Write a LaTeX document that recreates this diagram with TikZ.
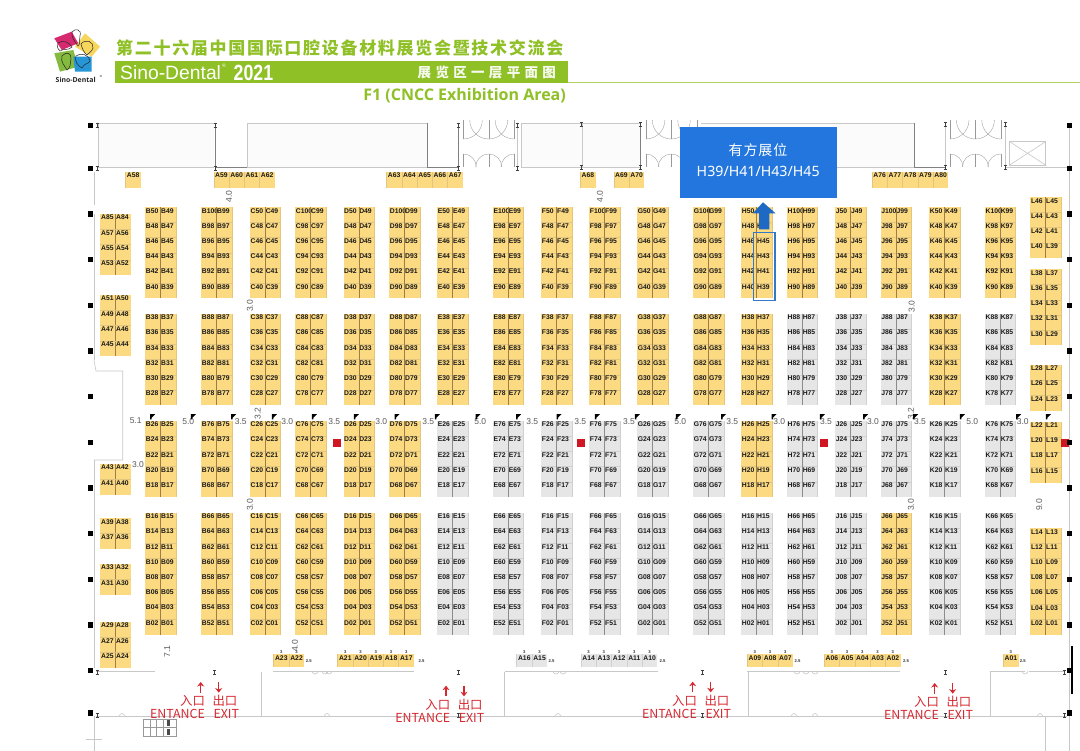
\documentclass[tikz,border=0pt]{standalone}
\usepackage{fontspec}
\usepackage{xcolor}
\setmainfont{Liberation Sans}
\newfontfamily\cjk{Noto Sans CJK SC}
\newfontfamily\cjktitle[LetterSpace=10]{Noto Sans CJK SC}
\newfontfamily\cjkbar[LetterSpace=32]{Noto Sans CJK SC}
\newfontfamily\cjkbox[LetterSpace=6]{Noto Sans CJK SC}
\newfontfamily\opensans{Open Sans}
\newfontfamily\notosans{Noto Sans}
\definecolor{boothY}{RGB}{252,218,130}
\definecolor{boothG}{RGB}{230,230,230}
\definecolor{midY}{RGB}{160,125,70}
\definecolor{midG}{RGB}{140,140,140}
\definecolor{rowY}{RGB}{226,198,128}
\definecolor{rowG}{RGB}{208,208,208}
\definecolor{sinogreen}{RGB}{143,192,38}
\definecolor{hostblue}{RGB}{35,118,222}
\definecolor{arrowblue}{RGB}{30,105,195}
\definecolor{exitred}{RGB}{214,40,48}
\definecolor{pillarred}{RGB}{208,22,34}
\definecolor{wallgray}{RGB}{200,200,200}
\definecolor{dimgray}{RGB}{90,90,90}
\definecolor{logopink}{RGB}{214,42,112}
\definecolor{logoyellow}{RGB}{246,214,92}
\definecolor{logogreen}{RGB}{132,186,62}
\definecolor{logoblue}{RGB}{38,150,214}

\tikzset{
	boothlabel/.style={font=\fontsize{6.8}{6.8}\selectfont\bfseries, text=black!90, inner sep=0pt, anchor=west},
	boothedge/.style={line width=0.5pt},
	wall/.style={draw=wallgray, line width=0.6pt},
	darkwall/.style={draw=black!50, line width=0.7pt},
	doorline/.style={draw=black!40, line width=0.35pt},
	dimtext/.style={font=\fontsize{8.5}{8.5}\selectfont, text=dimgray, inner sep=0pt},
	tinytext/.style={font=\fontsize{4.2}{4.2}\selectfont\bfseries, text=black!80, inner sep=0pt},
	redtext/.style={font=\cjk\fontsize{12.4}{12.4}\selectfont, text=exitred, inner sep=0pt},
	redarrow/.style={-{Stealth[length=4.5pt,width=7pt]}, draw=exitred, line width=1.3pt},
	tooth/.style={draw=black!85, line width=0.5pt},
}
\usetikzlibrary{arrows.meta}

% two columns of numbered stands: letter, left, top, first number, rows, colour
\newcommand{\boothcol}[6]{
	\fill[booth#6] (#2,#3) rectangle ++(30.6,{15.2*#5});
	\foreach \rr in {1,...,#5}{
		\pgfmathsetmacro\yrow{#3+15.2*(\rr-1)}
		\pgfmathtruncatemacro\numL{#4-2*(\rr-1)}
		\pgfmathtruncatemacro\numR{\numL-1}
		\edef\nameL{#1\ifnum\numL<10 0\fi\numL}
		\edef\nameR{#1\ifnum\numR<10 0\fi\numR}
		\ifnum\rr>1 \draw[row#6, boothedge] (#2,\yrow) -- ++(30.6,0); \fi
		\node[boothlabel] (\nameL) at (#2+0.4,\yrow+3.4) {\nameL};
		\node[boothlabel] (\nameR) at (#2+15.6,\yrow+3.4) {\nameR};
	}
	\draw[mid#6, boothedge] (#2+15.3,#3) -- ++(0,{15.2*#5});
	\draw[row#6, line width=0.6pt] (#2+30.6,#3) -- ++(0,{15.2*#5});
}
% a block of pairs with free names: left, top, height, list of pairs
\newcommand{\pairblock}[4]{
	\fill[boothY] (#1,#2) rectangle ++(30.6,#3);
	\draw[midY, boothedge] (#1+15.3,#2) -- ++(0,#3);
	\foreach \lft/\rgt [count=\i from 0] in {#4}{
		\pgfmathsetmacro\yrow{#2+15.3*\i}
		\ifnum\i>0 \draw[rowY, boothedge] (#1,\yrow) -- ++(30.6,0); \fi
		\node[boothlabel] (\lft) at (#1+0.9,\yrow+3.4) {\lft};
		\node[boothlabel] (\rgt) at (#1+16,\yrow+3.4) {\rgt};
	}
}
% a row of single stands along the top or bottom wall
\newcommand{\toprow}[3]{
	\foreach \lab [count=\i from 0] in {#3}{
		\fill[boothY] (#1+15.25*\i,#2) rectangle ++(15.25,16);
		\draw[rowY, boothedge] (#1+15.25*\i,#2) -- ++(0,16);
		\node[boothlabel, anchor=center] (\lab) at (#1+15.25*\i+7.6,#2+3.6) {\lab};
	}
}
\newcommand{\bottomrow}[3]{
	\foreach \lab [count=\i from 0] in {#3}{
		\fill[booth#2] (#1+15.25*\i,654.3) rectangle ++(15.25,12.4);
		\draw[row#2, boothedge] (#1+15.25*\i,654.3) -- ++(0,12.4);
		\node[boothlabel, anchor=center] (\lab) at (#1+15.25*\i+7.6,658.4) {\lab};
		\node[tinytext] (top\lab) at (#1+15.25*\i+7.6,652) {3};
	}
}
% entrance and exit pair
\newcommand{\gate}[3]{
	\draw[redarrow] (#2,#3+10.6) -- (#2,#3);
	\draw[redarrow] (#2+18,#3) -- (#2+18,#3+10.6);
	\node[redtext, anchor=east] (in#1) at (#2+4.4,#3+19) {入口};
	\node[redtext, anchor=west] (out#1) at (#2+11.6,#3+19) {出口};
	\node[redtext, anchor=east] (ent#1) at (#2+4.4,#3+32) {ENTANCE};
	\node[redtext, anchor=west] (ex#1) at (#2+12.6,#3+32) {EXIT};
}
% double doors in the top wall
\newcommand{\doorbay}[1]{
	\draw[doorline] (#1,120) -- ++(0,19) (#1+25.4,120) -- ++(0,19) (#1+50.8,120) -- ++(0,19);
	\draw[doorline] (#1,154) -- ++(0,13) (#1+25.4,154) -- ++(0,13) (#1+50.8,154) -- ++(0,13);
	\foreach \k in {0,25.4}{
		\draw[doorline] (#1+\k,139) .. controls (#1+\k+10.5,139) and (#1+\k+19,130.5) .. (#1+\k+19,120);
		\draw[doorline] (#1+\k+25.4,139) .. controls (#1+\k+14.9,139) and (#1+\k+6.4,130.5) .. (#1+\k+6.4,120);
		\draw[doorline] (#1+\k,154) .. controls (#1+\k+7.2,154) and (#1+\k+13,159.8) .. (#1+\k+13,167);
		\draw[doorline] (#1+\k+25.4,154) .. controls (#1+\k+18.2,154) and (#1+\k+12.4,159.8) .. (#1+\k+12.4,167);
	}
}

\begin{document}
\begin{tikzpicture}[x=1pt,y=-1pt]
	\useasboundingbox[fill=white] (0,0) rectangle (1080,751);

	% logo
	\fill[logoyellow] (85,33.3) -- (100,46.7) -- (91.7,56.7) -- (75,46.7) -- cycle;
	\fill[logopink] (54.3,38.3) -- (71.7,31.7) -- (78.3,43.3) -- (61.7,50) -- cycle;
	\fill[logogreen] (54.3,53.3) -- (73.3,50) -- (78.3,66.7) -- (60,71.7) -- cycle;
	\fill[logoblue] (73.3,56.7) -- (91.7,56.7) -- (91.7,71.7) -- (75,71.7) -- cycle;
	\draw[tooth] (72,32) .. controls (75,28) and (82,29) .. (80,36) .. controls (79,40) and (81,44) .. (78,46) .. controls (75,42) and (71,37) .. cycle;
	\draw[tooth] (81,44) .. controls (86,38) and (94,42) .. (93,48) .. controls (92,52) and (89,52) .. (87,55) .. controls (84,53) and (82,48) .. cycle;
	\draw[tooth] (58,43) .. controls (63,39) and (70,43) .. (72,47) .. controls (68,51) and (64,48) .. (60,51) .. controls (57,48) and (57,46) .. cycle;
	\draw[tooth] (62,56) .. controls (66,51) and (72,53) .. (71,59) .. controls (70,64) and (71,67) .. (67,70) .. controls (65,66) and (60,62) .. cycle;
	\draw[tooth] (76,56) .. controls (80,52) and (90,55) .. (90,61) .. controls (88,65) and (85,62) .. (82,68) .. controls (78,66) and (74,61) .. cycle;
	\node[font=\opensans\fontsize{6.9}{6.9}\selectfont\bfseries, inner sep=0pt, text=black!85, anchor=west] (logotext) at (55.5,79.5) {Sino-Dental};
	\node[font=\fontsize{3}{3}\selectfont, inner sep=0pt] (logomark) at (101,76.8) {®};

	% title bar
	\node[font=\cjktitle\bfseries\fontsize{17}{17}\selectfont, text=sinogreen, inner sep=0pt, anchor=west] (title) at (116,48) {第二十六届中国国际口腔设备材料展览会暨技术交流会};
	\fill[sinogreen] (115,61) rectangle (567.6,83);
	\draw[sinogreen!70, line width=0.7pt] (567.6,82.6) -- (1080,82.6);
	\node[font=\fontsize{19.3}{19.3}\selectfont, text=white, inner sep=0pt, anchor=west] (brand) at (120,72.5) {Sino-Dental};
	\node[font=\fontsize{5}{5}\selectfont, text=white, inner sep=0pt] (brandmark) at (224,66) {®};
	\node[font=\fontsize{20}{20}\selectfont\bfseries, text=white, inner sep=0pt, anchor=west] (brandyear) at (233.5,72.5) {\scalebox{.89}[1.1]{2021}};
	\node[font=\cjkbar\bfseries\fontsize{13.5}{13.5}\selectfont, text=white!92!sinogreen, inner sep=0pt, anchor=west] (hall) at (417.5,72.3) {展览区一层平面图};
	\node[font=\opensans\bfseries\fontsize{16}{16}\selectfont, text=sinogreen, inner sep=0pt, anchor=east] (area) at (566,96) {F1 (CNCC Exhibition Area)};

	% walls
	\fill[black!1.5] (98,123) rectangle (214,167);
	\fill[black!1.5] (247,123) rectangle (427,167);
	\fill[black!1.5] (522,123) rectangle (640,167);
	\fill[black!1.5] (701,123) rectangle (914,167);
	\draw[wall] (98,123) -- (214,123);
	\draw[wall] (98,123) -- (98,167) -- (214,167);
	\draw[darkwall] (215,123) -- (215,167) -- (247,167);
	\draw[wall] (247,167) -- (247,123) -- (427,123);
	\draw[wall] (247,167) -- (427,167);
	\draw[darkwall] (427,123) -- (427,167) -- (458.3,167) -- (458.3,123);
	\draw[wall] (521.7,123) -- (640,123);
	\draw[wall] (517.7,123) -- (517.7,167);
	\draw[wall] (521.7,123) -- (521.7,167) -- (640,167);
	\draw[wall] (582,123) -- (582,167);
	\draw[darkwall] (640,123) -- (640,167);
	\draw[wall] (701,123) -- (914,123);
	\draw[wall] (701,167) -- (914,167);
	\draw[darkwall] (914,123) -- (914,167) -- (945,167);
	\draw[wall] (945,123) -- (945,167);
	\draw[wall] (1005,167) -- (1069,167);
	\draw[wall] (1005,123) -- (1005,167);
	\draw[wall] (1009.7,141.7) rectangle (1045.5,165);
	\draw[wall] (1009.7,141.7) -- (1045.5,165);
	\draw[wall] (1045.5,141.7) -- (1009.7,165);
	\doorbay{463.3}
	\doorbay{645.9}
	\doorbay{950}
	\draw[wall] (94,214) -- (94,360);
	\draw[wall] (94,360) -- (96,371) -- (122.7,371) -- (122.7,460) -- (96,460) -- (94,460);
	\draw[wall] (94,460) -- (94,668);
	\draw[wall] (94,172) -- (94,205);
	\draw[wall] (96,671) -- (155,671);
	\draw[wall] (273,671) -- (414,671);
	\draw[wall] (505,671) -- (658,671);
	\draw[wall] (747,671) -- (900,671);
	\draw[wall] (990,671) -- (1025,671);
	\draw[wall] (1029,671) -- (1064,671);
	\draw[wall] (96,715.8) -- (1067,715.8);
	\draw[wall] (261.7,672) -- (261.7,715.8);
	\draw[wall] (504.3,672) -- (504.3,715.8);
	\draw[wall] (748,672) -- (748,715.8);
	\draw[wall] (990,672) -- (990,715.8);
	\draw[wall] (1069,125) -- (1069,751);
	\draw[wall] (1045,716) -- (1045,751);
	\draw[wall] (94,716) -- (94,751);
	\draw[wall] (86,739) -- (102,739);
	\draw[black, line width=1.2pt] (1072,646) -- (1072,694);
	\foreach \x in {150,156.5,163}{
		\draw[doorline] (\x,719) -- ++(0,17);
	}
	\draw[doorline] (143,719) rectangle (176,727.5);
	\draw[doorline] (143,727.5) rectangle (176,736);
	\fill[black!70] (167,720) rectangle (170,726);
	\fill[black!70] (167,729) rectangle (170,735);
	\foreach \x in {315,325,329,556,563,797,806,815,1025}{
		\draw[wall] (\x-3,671) arc (180:360:3 and -3);
	}
	\foreach \x in {122,327,558,794,815,1040}{
		\draw[wall] (\x-2.5,716) arc (180:360:2.5 and 2.5);
	}

	% pillars
	\foreach \y in {125.7,168.3,214,259.7,305.3,351,396.7,442.3,488,533.7,579.3,625,670.3,713}{
		\fill[black] (90.5-2.6,\y-2.6) rectangle ++(5.2,5.2);
		\fill[black] (1069.3-2.6,\y-2.6) rectangle ++(5.2,5.2);
	}
	\foreach \x/\y in {97/125,97/168,215/125,215/168,458.3/125,458.3/168,517/125,517/168,581/124,581/167,640/124,640/167,945/124,945/167,1005/124,1005/167,97/672,97/715,214.5/672,458/672,458/715,702/672,702/715,945/672,945/715,1064/672,1064/715}{
		\draw[black!75, line width=0.35pt] (\x-1.5,\y-2) -- ++(3,0) (\x,\y-2) -- ++(0,4) (\x-1.5,\y+2) -- ++(3,0);
	}

	% main stands
	\foreach \c/\x/\a/\bA/\bB/\bC/\bD in {
		B/145.3/0/Y/Y/Y/Y, B/201.3/50/Y/Y/Y/Y,
		C/250/0/Y/Y/Y/Y, C/295.3/50/Y/Y/Y/Y,
		D/343.5/0/Y/Y/Y/Y, D/389.3/50/Y/Y/Y/Y,
		E/437.3/0/Y/Y/G/G, E/493/50/Y/Y/G/G,
		F/541.3/0/Y/Y/G/G, F/589.3/50/Y/Y/G/G,
		G/637.3/0/Y/Y/G/G, G/693.3/50/Y/Y/G/G,
		H/741.3/0/Y/Y/Y/G, H/787/50/Y/G/G/G,
		J/835.3/0/Y/G/G/G, J/880.7/50/Y/G/G/Y,
		K/929.3/0/Y/Y/G/G, K/985/50/Y/G/G/G}{
		\pgfmathtruncatemacro\na{50+\a}
		\pgfmathtruncatemacro\nb{38+\a}
		\pgfmathtruncatemacro\nc{26+\a}
		\pgfmathtruncatemacro\nd{16+\a}
		\boothcol{\c}{\x}{207.3}{\na}{6}{\bA}
		\boothcol{\c}{\x}{314}{\nb}{6}{\bB}
		\boothcol{\c}{\x}{421}{\nc}{5}{\bC}
		\boothcol{\c}{\x}{513}{\nd}{8}{\bD}
	}
	\boothcol{L}{1030.4}{197.3}{46}{4}{Y}
	\boothcol{L}{1030.4}{269.5}{38}{5}{Y}
	\boothcol{L}{1030.4}{365}{28}{3}{Y}
	\boothcol{L}{1030.4}{421.7}{22}{4}{Y}
	\boothcol{L}{1030.4}{528.3}{14}{7}{Y}

	% stands along the left wall
	\pairblock{100}{214}{61.3}{A85/A84,A57/A56,A55/A54,A53/A52}
	\pairblock{100}{295}{61.3}{A51/A50,A49/A48,A47/A46,A45/A44}
	\pairblock{100}{464}{31}{A43/A42,A41/A40}
	\pairblock{100}{518.3}{30.6}{A39/A38,A37/A36}
	\pairblock{100}{564}{30.6}{A33/A32,A31/A30}
	\pairblock{100}{622}{45.6}{A29/A28,A27/A26,A25/A24}

	% stands along the top and bottom walls
	\toprow{125.5}{171.7}{A58}
	\toprow{213.8}{171.7}{A59,A60,A61,A62}
	\toprow{386.6}{171.7}{A63,A64,A65,A66,A67}
	\toprow{580.3}{171.7}{A68}
	\toprow{613.8}{171.7}{A69,A70}
	\toprow{872}{171.7}{A76,A77,A78,A79,A80}
	\bottomrow{273.7}{Y}{A23,A22}
	\bottomrow{337.7}{Y}{A21,A20,A19,A18,A17}
	\bottomrow{516.7}{G}{A16,A15}
	\bottomrow{581}{G}{A14,A13,A12,A11,A10}
	\bottomrow{747.3}{Y}{A09,A08,A07}
	\bottomrow{824.3}{Y}{A06,A05,A04,A03,A02}
	\bottomrow{1003.3}{Y}{A01}
	\foreach \x [count=\i] in {308.7,421.5,551.5,662.5,797.5,906,1022.7}{
		\node[tinytext] (wide\i) at (\x,661.3) {2.5};
	}

	% aisle widths
	\foreach \x/\y/\t [count=\i] in {135.7/420.3/5.1,188.3/422/5.0,240.7/422/3.5,287.3/422/3.0,334.3/422/3.5,381.3/422/3.0,428.3/422/3.5,480.3/421.7/5.0,532.3/421.7/3.5,580.3/421.7/3.5,629/421.7/3.5,680.3/421.7/5.0,732.3/421.7/3.5,779.3/421.7/3.0,826/421.7/3.5,873/421.7/3.0,920/421.7/3.5,972.3/421.7/5.0,1022.7/421.7/3.0,138/464.3/3.0}{
		\node[dimtext] (aisle\i) at (\x,\y) {\t};
	}
	\foreach \x/\y/\t [count=\i] in {229/196.5/4.0,600/196.5/4.0,250/306/3.0,911.7/306.5/3.0,257.7/413.3/3.2,911/413.3/3.2,250/505/3.0,911/505/3.0,1039.3/505/9.0,167.3/651.7/7.1,295/646/4.0}{
		\node[dimtext, rotate=90] (cross\i) at (\x,\y) {\t};
	}
	\foreach \x in {152.7,193.3,233.7,274.3,314.3,356.3,397,437.3,478,518.7,559,597.3,637.3,678.3,723.5,774,822.3,865.7,915.7,962.3,1018.7,1048.3}{
		\fill[black] (\x,416.7) ++(-2.5,-2.5) -- ++(5,0) -- ++(-3.5,3.5) -- ++(0,1.8) -- ++(-1.5,0) -- cycle;
	}

	% fire points
	\foreach \x in {336.7,580.7,824,1065}{
		\fill[pillarred] (\x-4,442.6-4) rectangle ++(8,8);
	}
	\fill[black] (1069.3-2.6,442.3-2.6) rectangle ++(5.2,5.2);

	% entrances
	\gate{1}{200.7}{682}
	\gate{2}{446}{685.7}
	\gate{3}{692.7}{681.7}
	\gate{4}{934.7}{683}

	% the host's stands
	\fill[hostblue] (679.7,127.3) rectangle (837,198.3);
	\node[font=\cjkbox\fontsize{14}{14}\selectfont, text=white, inner sep=0pt] (hostname) at (758,150) {有方展位};
	\node[font=\notosans\fontsize{14.2}{14.2}\selectfont, text=white, inner sep=0pt] (hostlist) at (758.2,171) {H39/H41/H43/H45};
	\fill[arrowblue] (763,202.3) -- (775.5,213.3) -- (769.3,213.3) -- (769.3,229.3) -- (759,229.3) -- (759,213.3) -- (752.8,213.3) -- cycle;
	\draw[arrowblue!90, line width=1.3pt] (753.4,232.3) rectangle (775,300.3);
\end{tikzpicture}
\end{document}
